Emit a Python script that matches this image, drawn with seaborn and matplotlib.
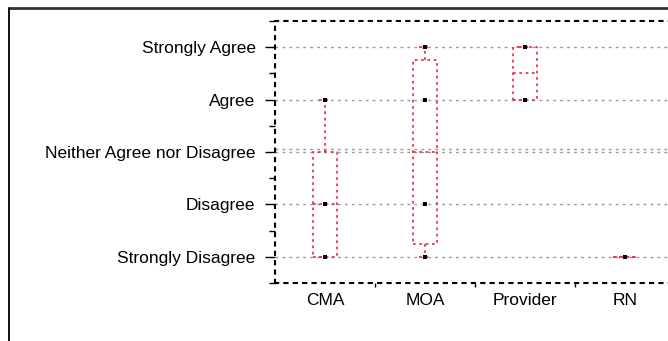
import matplotlib
matplotlib.use('Agg')
import matplotlib.pyplot as plt
from matplotlib.lines import Line2D
import seaborn as sns
import pandas as pd

sns.set_style('white')
plt.rcParams['font.family'] = ['Liberation Sans', 'DejaVu Sans']
plt.rcParams['text.color'] = 'black'
plt.rcParams['xtick.color'] = 'black'
plt.rcParams['ytick.color'] = 'black'

# --- dados (escala Likert 1-5) ---
grupos = ['CMA', 'MOA', 'Provider', 'RN']
cma = [1, 1, 1, 2, 2, 4, 4]
moa = [1, 1, 2, 4, 5, 5]
provider = [4, 4, 5, 5]
rn = [1]
niveis = ['Strongly Disagree', 'Disagree', 'Neither Agree nor Disagree',
          'Agree', 'Strongly Agree']

df = pd.DataFrame({
    'grupo': ['CMA'] * len(cma) + ['MOA'] * len(moa)
             + ['Provider'] * len(provider) + ['RN'] * len(rn),
    'resp': cma + moa + provider + rn,
})

vermelho = '#e8384f'
dot = (0, (1.5, 2))

fig = plt.figure(figsize=(6.68, 3.41), dpi=100)
ax = fig.add_axes([275 / 668, 1 - 283 / 341, 400 / 668, 262 / 341])

# grade horizontal
for v in range(1, 6):
    ax.axhline(v, color='#999999', lw=1, ls=(0, (2, 3)), zorder=0)
ax.axhline(3.05, color='#999999', lw=1, ls=(0, (2, 3)), zorder=0)

line_kw = dict(linestyle=dot, color=vermelho, linewidth=1.3)
sns.boxplot(data=df, x='grupo', y='resp', order=grupos, fill=False,
            color=vermelho, width=0.24, showfliers=False, ax=ax,
            boxprops=line_kw, whiskerprops=line_kw, capprops=line_kw,
            medianprops=line_kw)
sns.stripplot(data=df, x='grupo', y='resp', order=grupos, jitter=False,
              color='black', size=2.5, marker='s', ax=ax, zorder=5)

ax.set_xlim(-0.5, 3.5)
ax.set_ylim(0.5, 5.5)
ax.set_yticks(range(1, 6))
ax.set_yticklabels(niveis, fontsize=12.5, color='black')
ax.set_yticks([0.5, 1.5, 2.5, 3.5, 4.5, 5.5], minor=True)
ax.set_xticks(range(4))
ax.set_xticklabels(grupos, fontsize=12.5, color='black')
ax.set_xticks([0.5, 1.5, 2.5], minor=True)
ax.tick_params(axis='y', which='major', length=7, width=1, pad=7, left=True,
               color='black')
ax.tick_params(axis='y', which='minor', length=4, width=1, left=True,
               color='black')
ax.tick_params(axis='x', which='major', length=0, pad=7)
ax.tick_params(axis='x', which='minor', length=3, width=1, bottom=True,
               color='black')
ax.set_xlabel('')
ax.set_ylabel('')
for lado in ['left', 'top', 'bottom']:
    ax.spines[lado].set_visible(True)
    ax.spines[lado].set_linestyle((0, (1.5, 3)))
    ax.spines[lado].set_color('black')
    ax.spines[lado].set_linewidth(1.5)
ax.spines['right'].set_visible(False)
ax.set_facecolor('none')

# moldura da figura (so topo e esquerda aparecem)
y_top = 1 - 8 / 341
x_left = 9 / 668
fig.add_artist(Line2D([x_left, 1.0], [y_top, y_top], color='#333333',
                      lw=2, transform=fig.transFigure))
fig.add_artist(Line2D([x_left, x_left], [0.0, y_top], color='#111111',
                      lw=1.4, transform=fig.transFigure))

plt.savefig('out.png', dpi=100)
plt.close()
